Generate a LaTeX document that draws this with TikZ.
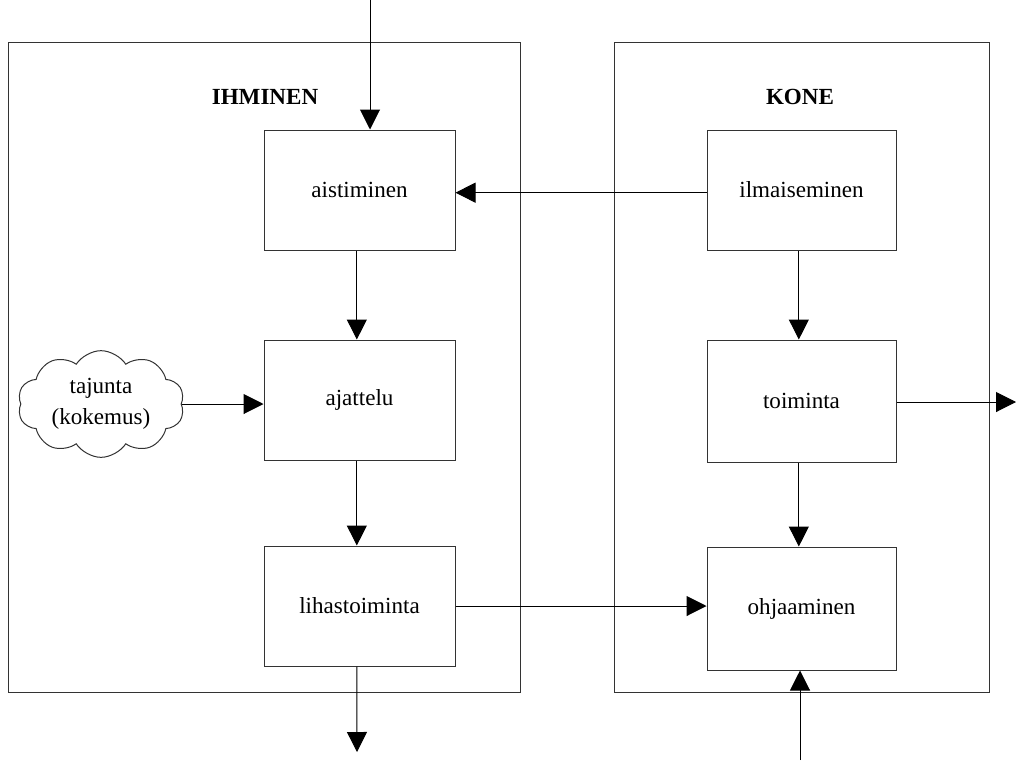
\documentclass[tikz,border=0pt]{standalone}
\usepackage{fontspec}
\setmainfont{Liberation Serif}
\usetikzlibrary{arrows.meta,shapes.symbols}
\begin{document}
\begin{tikzpicture}[x=0.75pt,y=-0.75pt,
  line width=0.75pt,
  font=\fontsize{17.3}{19}\selectfont,
  frame/.style={draw=black!80},
  block/.style={draw=black!80,minimum width=191*0.75pt,minimum height=120*0.75pt,inner sep=0pt},
  flow/.style={draw=black,-{Triangle[length=15pt,width=15pt]}},
  title/.style={font=\fontsize{17.3}{19}\selectfont\bfseries}]
\useasboundingbox (0,0) rectangle (1016,760);

% the two system frames
\draw[frame] (8,42) rectangle (520,692);
\draw[frame] (614,42) rectangle (989,692);
\node[title] (ihm) at (265,97) {IHMINEN};
\node[title] (kone) at (800,97) {KONE};

% human side
\node[block] (aist) at (359.5,190) {aistiminen};
\node[block] (ajat) at (359.5,400) {ajattelu};
\node[block] (liha) at (359.5,606) {lihastoiminta};
\node[cloud,draw=black!80,cloud puffs=10,cloud puff arc=115,aspect=1.6,
      minimum width=125pt,minimum height=80pt,inner sep=-8pt,align=center,
      font=\fontsize{17.3}{23}\selectfont]
      (taju) at (101,404) {tajunta\\(kokemus)};

% machine side
\node[block,minimum width=189*0.75pt] (ilma) at (801.5,190) {ilmaiseminen};
\node[block,minimum width=189*0.75pt,minimum height=122*0.75pt] (toim) at (801.5,401) {toiminta};
\node[block,minimum width=189*0.75pt,minimum height=123*0.75pt] (ohja) at (801.5,608.5) {ohjaaminen};

% free ends
\coordinate (in1) at (370,0);
\coordinate (out1) at (357,752);
\coordinate (out2) at (1016,402);
\coordinate (in2) at (800,760);

% connectors
\draw[flow] (in1) -- (in1 |- aist.north);
\draw[flow] ([xshift=-2pt]aist.south) -- ([xshift=-2pt]ajat.north);
\draw[flow] ([xshift=-2pt]ajat.south) -- ([xshift=-2pt]liha.north);
\draw[flow] ([xshift=-2pt]liha.south) -- (out1);
\draw[flow] (taju.east) -- (taju.east -| ajat.west);
\draw[flow] ([yshift=-2pt]ilma.west) -- ([yshift=-2pt]ilma.west -| aist.east);
\draw[flow] ([xshift=-2pt]ilma.south) -- ([xshift=-2pt]toim.north);
\draw[flow] ([xshift=-2pt]toim.south) -- ([xshift=-2pt]ohja.north);
\draw[flow] (toim.east |- out2) -- (out2);
\draw[flow] (liha.east) -- (liha.east -| ohja.west);
\draw[flow] (in2) -- (in2 |- ohja.south);
\end{tikzpicture}
\end{document}
